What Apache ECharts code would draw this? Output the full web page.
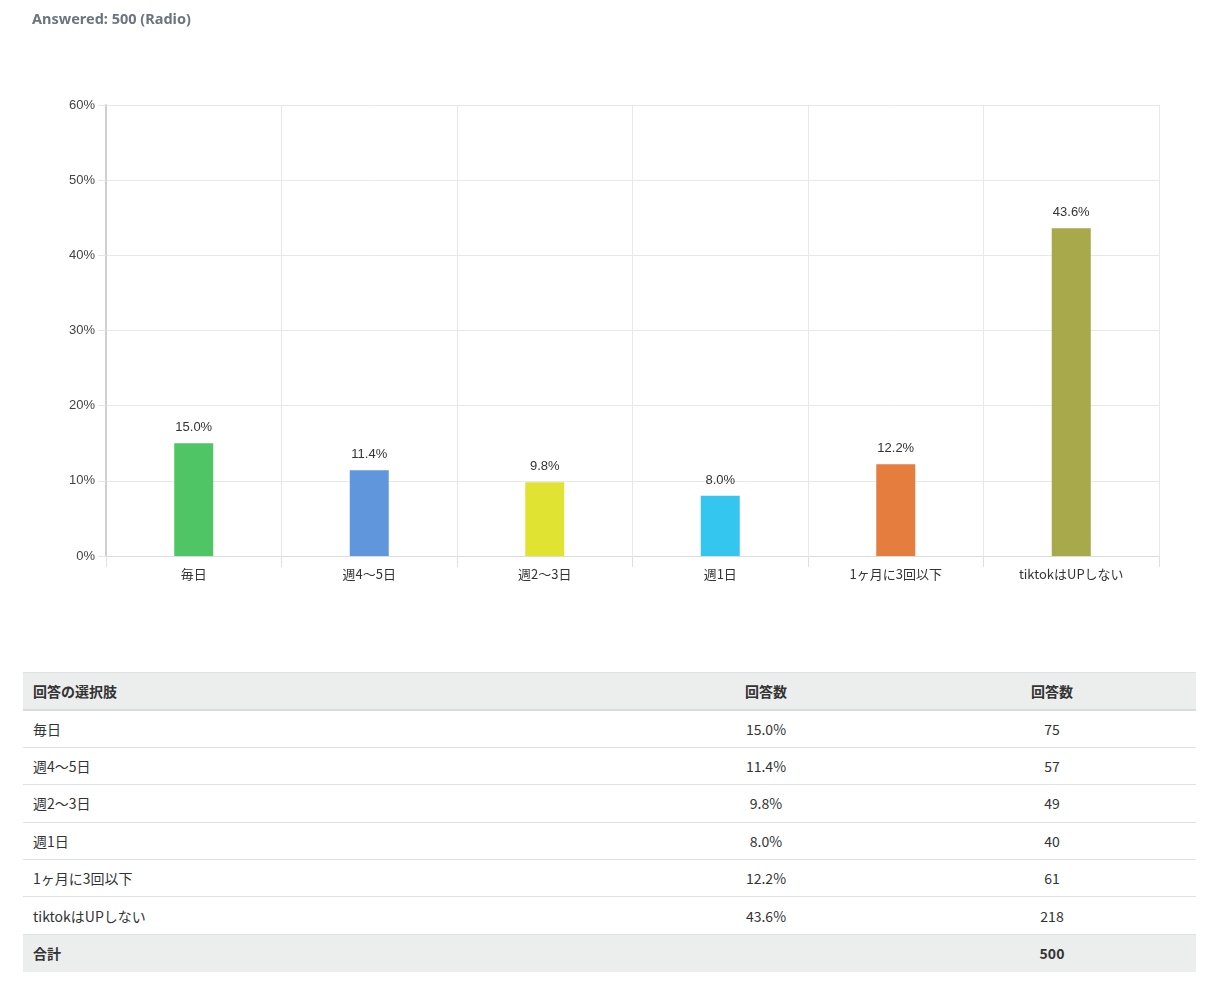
<!DOCTYPE html>
<html>
<head>
<meta charset="utf-8">
<script src="https://cdn.jsdelivr.net/npm/echarts@6/dist/echarts.min.js"></script>
<style>
  html, body { margin: 0; padding: 0; background: #fff; }
  body { width: 1217px; height: 987px; position: relative; overflow: hidden;
         font-family: "Noto Sans CJK JP", "Noto Sans", sans-serif; }
  #chart { position: absolute; left: 0; top: 0; width: 1217px; height: 640px; }
  table { position: absolute; left: 23px; top: 672px; width: 1173px; border-collapse: collapse;
          font-size: 14px; color: #333; }
  td, th { height: 37.4px; padding: 0 10px; border-bottom: 1px solid #dfe2e2; box-sizing: border-box; line-height: 16px; }
  thead th { background: #eceeed; font-weight: bold; border-top: 1px solid #dfe2e2; border-bottom: 2px solid #d8dbdb; }
  th.c1, td.c1 { text-align: left; width: 601px; }
  th.c2, td.c2 { text-align: center; width: 284px; }
  th.c3, td.c3 { text-align: center; }
  tfoot td { background: #eceeed; font-weight: bold; border-bottom: none; }
</style>
</head>
<body>
<div id="chart"></div>
<table id="tbl"></table>
<script>
const categories = ['毎日', '週4～5日', '週2～3日', '週1日', '1ヶ月に3回以下', 'tiktokはUPしない'];
const percents = [15.0, 11.4, 9.8, 8.0, 12.2, 43.6];
const counts = [75, 57, 49, 40, 61, 218];
const total = 500;
const barColors = ['#4fc565', '#6096db', '#e0e332', '#35c6ef', '#e57d3f', '#a8a94a'];
const yTicks = [0, 10, 20, 30, 40, 50, 60];
const headers = ['回答の選択肢', '回答数', '回答数'];
const footerLabel = '合計';

const chart = echarts.init(document.getElementById('chart'));
chart.setOption({
  animation: false,
  title: {
    text: 'Answered: ' + total + ' (Radio)',
    left: 32, top: 12, padding: 0,
    textStyle: { fontSize: 14.5, fontWeight: 'bold', color: '#6b7580', fontFamily: 'Noto Sans' }
  },
  grid: { left: 106, right: 58, top: 105, bottom: 84 },
  xAxis: {
    type: 'category',
    data: categories,
    boundaryGap: true,
    axisLine: { show: true, lineStyle: { color: '#dcdcdc', width: 1 } },
    axisTick: { show: true, length: 11, alignWithLabel: false, lineStyle: { color: '#e0e0e0' } },
    splitLine: { show: true, lineStyle: { color: '#e8e8e8' } },
    axisLabel: { color: '#333', fontSize: 13, margin: 12, fontFamily: 'Noto Sans CJK JP' }
  },
  yAxis: {
    type: 'value',
    min: yTicks[0], max: yTicks[yTicks.length - 1], interval: 10,
    axisLine: { show: true, lineStyle: { color: '#cfcfcf', width: 2 } },
    axisTick: { show: true, length: 8, lineStyle: { color: '#e6e6e6' } },
    splitLine: { show: true, lineStyle: { color: '#e8e8e8' } },
    axisLabel: { formatter: '{value}%', color: '#444', fontSize: 13, margin: 11, fontFamily: 'Liberation Sans' }
  },
  series: [{
    type: 'bar',
    barWidth: 39,
    data: percents.map((v, i) => ({ value: v, itemStyle: { color: barColors[i] } })),
    label: {
      show: true, position: 'top', distance: 9,
      formatter: p => p.value.toFixed(1) + '%',
      color: '#333', fontSize: 13, fontFamily: 'Liberation Sans'
    }
  }]
});

const tbl = document.getElementById('tbl');
let html = '<thead><tr><th class="c1">' + headers[0] + '</th><th class="c2">' + headers[1] +
           '</th><th class="c3">' + headers[2] + '</th></tr></thead><tbody>';
categories.forEach((c, i) => {
  html += '<tr><td class="c1">' + c + '</td><td class="c2">' + percents[i].toFixed(1) +
          '%</td><td class="c3">' + counts[i] + '</td></tr>';
});
html += '</tbody><tfoot><tr><td class="c1">' + footerLabel + '</td><td class="c2"></td><td class="c3">' +
        total + '</td></tr></tfoot>';
tbl.innerHTML = html;
</script>
</body>
</html>
